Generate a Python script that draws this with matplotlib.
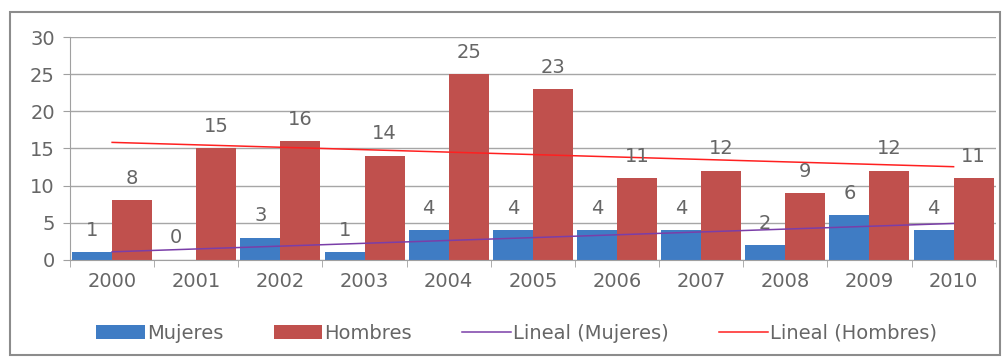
import numpy as np
import matplotlib.pyplot as plt
from matplotlib.patches import Rectangle

years = ["2000", "2001", "2002", "2003", "2004", "2005",
         "2006", "2007", "2008", "2009", "2010"]
mujeres = [1, 0, 3, 1, 4, 4, 4, 4, 2, 6, 4]
hombres = [8, 15, 16, 14, 25, 23, 11, 12, 9, 12, 11]

text_color = "#666666"
fs = 14
plt.rcParams["font.family"] = ["DejaVu Sans"]

fig = plt.figure(figsize=(10.05, 3.63), dpi=100)
ax = fig.add_axes([0.0697, 0.284, 0.921, 0.614])

# outer chart frame
fig.patches.append(Rectangle((0.010, 0.022), 0.985, 0.945, transform=fig.transFigure,
                             fill=False, edgecolor="#8c8c8c", linewidth=1.5))

x = np.arange(len(years))
w = 0.475
b1 = ax.bar(x - w / 2, mujeres, w, color="#3f7cc4", label="Mujeres", zorder=2)
b2 = ax.bar(x + w / 2, hombres, w, color="#c0504d", label="Hombres", zorder=2)

# linear trendlines
pm = np.polyfit(x, mujeres, 1)
ph = np.polyfit(x, hombres, 1)
ax.plot(x, np.polyval(pm, x), color="#7a3ea8", linewidth=1.1,
        label="Lineal (Mujeres)", zorder=3)
ax.plot(x, np.polyval(ph, x), color="#ff2020", linewidth=1.1,
        label="Lineal (Hombres)", zorder=3)

for bars in (b1, b2):
    ax.bar_label(bars, padding=9, fontsize=fs, color=text_color)

ax.set_ylim(0, 30)
ax.set_yticks(range(0, 31, 5))
ax.set_xlim(-0.5, len(years) - 0.5)
ax.set_xticks(x)
ax.set_xticklabels(years)
ax.set_xticks(np.arange(-0.5, len(years)), minor=True)
ax.tick_params(axis="x", which="major", length=0, pad=9, labelsize=fs,
               labelcolor=text_color)
ax.tick_params(axis="x", which="minor", length=5, color="#a0a0a0")
ax.tick_params(axis="y", length=5, color="#a0a0a0", labelsize=fs,
               labelcolor=text_color, pad=6)
ax.yaxis.grid(True, color="#a6a6a6", linewidth=1, zorder=0)
ax.set_axisbelow(True)
for side in ("top", "right"):
    ax.spines[side].set_visible(False)
ax.spines["left"].set_color("#a0a0a0")
ax.spines["bottom"].set_color("#a0a0a0")

handles, labels = ax.get_legend_handles_labels()
order = [2, 3, 0, 1]
leg = fig.legend([handles[i] for i in order], [labels[i] for i in order],
                 loc="center", bbox_to_anchor=(0.514, 0.082), ncol=4, frameon=False,
                 fontsize=fs, handlelength=2.5, handleheight=0.75,
                 handletextpad=0.1, columnspacing=2.6, labelcolor=text_color)

fig.savefig("out.png", dpi=100)
